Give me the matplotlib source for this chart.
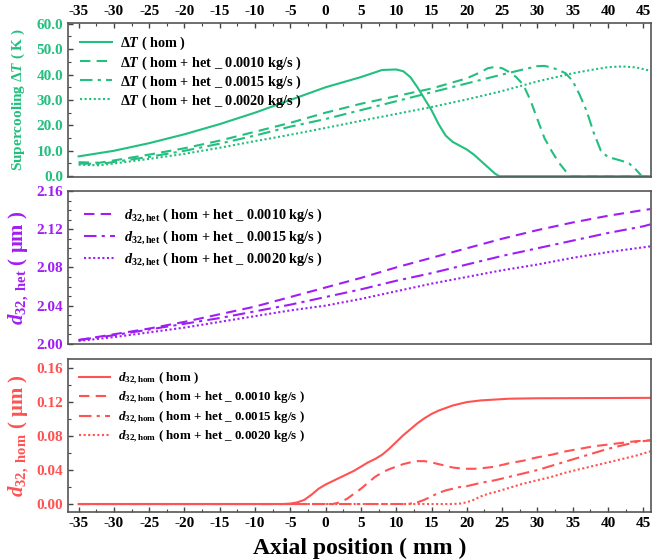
import matplotlib
matplotlib.use("Agg")
import matplotlib.pyplot as plt
from matplotlib.ticker import MultipleLocator

plt.rcParams['font.family'] = ['Liberation Serif', 'DejaVu Serif']
plt.rcParams['font.weight'] = 'bold'
plt.rcParams['axes.unicode_minus'] = False
plt.rcParams['mathtext.fontset'] = 'custom'
plt.rcParams['mathtext.rm'] = 'Liberation Serif:bold'
plt.rcParams['mathtext.it'] = 'Liberation Serif:italic:bold'
plt.rcParams['mathtext.bf'] = 'Liberation Serif:bold'

GREEN = '#22BF7E'
PURPLE = '#A01EF5'
RED = '#FF5252'

# ---------------- Supercooling ΔT (K) ----------------
dt_hom_x = [-35, -30, -25, -20, -15, -10, -5, 0, 5, 8, 10, 11, 12, 13, 14, 15, 16, 17, 18, 19, 20, 21, 22, 23, 24, 24.6, 30, 40, 46]
dt_hom_y = [7.8, 10, 13, 16.5, 20.5, 25, 30, 35, 39, 41.8, 42, 41.3, 39, 35, 30.5, 26, 20.5, 16, 13.5, 12, 10.5, 8.5, 6, 3.5, 1, 0, 0, 0, 0]

dt_10_x = [-35, -32, -30, -25, -20, -15, -10, -5, 0, 5, 10, 15, 20, 22, 23, 24, 25, 26, 27, 28, 29, 30, 31, 32, 33, 34, 34.7, 40, 46]
dt_10_y = [5.5, 5.3, 6.2, 8.5, 11, 14, 17.5, 21, 25, 28.5, 31.5, 34.5, 38.5, 41, 42.5, 43, 42.5, 41, 39, 36, 30, 22.5, 15, 10, 5.5, 2, 0, 0, 0]

dt_15_x = [-35, -32, -30, -25, -20, -15, -10, -5, 0, 5, 10, 15, 20, 25, 28, 30, 31, 32, 33, 34, 35, 36, 37, 38, 39, 40, 41, 42, 43, 44, 44.8, 46]
dt_15_y = [5, 4.8, 5.6, 7.6, 10, 12.8, 16, 19.5, 22.5, 26, 29.5, 33, 36.5, 40, 42, 43.3, 43.4, 42.8, 41.8, 40.5, 37.5, 32, 25.5, 17, 10, 7.5, 6.8, 6, 5, 2.5, 0, 0]

dt_20_x = [-35, -32, -30, -25, -20, -15, -10, -5, 0, 5, 10, 15, 20, 25, 30, 35, 38, 40, 42, 44, 46]
dt_20_y = [4.5, 4.3, 5, 6.8, 8.8, 11.2, 13.8, 16.3, 19, 21.8, 24.5, 27.2, 30.2, 33.5, 37.3, 40.5, 42, 42.9, 43.2, 42.8, 41.5]

# ---------------- d32,het (µm) ----------------
het_x = [-35, -30, -25, -20, -15, -10, -5, 0, 5, 10, 15, 20, 25, 30, 35, 40, 45, 46]
het_10 = [2.004, 2.010, 2.016, 2.023, 2.031, 2.039, 2.049, 2.059, 2.069, 2.080, 2.090, 2.100, 2.110, 2.119, 2.127, 2.134, 2.140, 2.141]
het_15 = [2.004, 2.009, 2.015, 2.021, 2.027, 2.034, 2.041, 2.049, 2.057, 2.066, 2.074, 2.083, 2.092, 2.100, 2.108, 2.116, 2.123, 2.125]
het_20 = [2.003, 2.007, 2.012, 2.017, 2.023, 2.029, 2.035, 2.040, 2.047, 2.055, 2.063, 2.070, 2.077, 2.083, 2.090, 2.096, 2.101, 2.102]

# ---------------- d32,hom (µm) ----------------
hom_x = [-35, -6, -5, -4, -3, -2, -1, 0, 1, 2, 3, 4, 5, 6, 7, 8, 9, 10, 11, 12, 13, 14, 15, 16, 17, 18, 19, 20, 22, 24, 26, 30, 46]
hom_y = [0, 0, 0.0005, 0.002, 0.005, 0.011, 0.018, 0.023, 0.027, 0.031, 0.035, 0.039, 0.044, 0.049, 0.053, 0.058, 0.065, 0.073, 0.081, 0.088, 0.095, 0.101, 0.106, 0.110, 0.113, 0.116, 0.118, 0.120, 0.122, 0.123, 0.124, 0.1245, 0.125]

hom10_x = [-35, 1, 2, 3, 4, 5, 6, 7, 8, 9, 10, 11, 12, 13, 14, 15, 16, 17, 18, 19, 20, 21, 22, 24, 26, 28, 30, 32, 34, 36, 38, 40, 42, 44, 46]
hom10_y = [0, 0, 0.002, 0.006, 0.012, 0.018, 0.025, 0.032, 0.037, 0.041, 0.044, 0.047, 0.049, 0.0505, 0.0505, 0.049, 0.047, 0.045, 0.043, 0.042, 0.0415, 0.0415, 0.042, 0.044, 0.048, 0.051, 0.055, 0.058, 0.062, 0.065, 0.068, 0.070, 0.072, 0.074, 0.075]

hom15_x = [-35, 11.5, 12, 13, 14, 15, 16, 17, 18, 19, 20, 22, 24, 26, 28, 30, 32, 34, 36, 38, 40, 42, 44, 46]
hom15_y = [0, 0, 0.0005, 0.002, 0.005, 0.009, 0.013, 0.016, 0.018, 0.020, 0.021, 0.025, 0.028, 0.032, 0.036, 0.040, 0.045, 0.050, 0.055, 0.060, 0.065, 0.069, 0.073, 0.075]

hom20_x = [-35, 18, 19, 20, 21, 22, 23, 24, 26, 28, 30, 32, 34, 36, 38, 40, 42, 44, 46]
hom20_y = [0, 0, 0.0005, 0.002, 0.005, 0.009, 0.012, 0.014, 0.019, 0.024, 0.028, 0.032, 0.037, 0.041, 0.045, 0.049, 0.053, 0.057, 0.062]

x_ticks = [-35, -30, -25, -20, -15, -10, -5, 0, 5, 10, 15, 20, 25, 30, 35, 40, 45]

fig = plt.figure(figsize=(6.67, 5.6), dpi=100)
L, W = 0.102, 0.874
ax1 = fig.add_axes([L, 0.684, W, 0.275])
ax2 = fig.add_axes([L, 0.386, W, 0.273])
ax3 = fig.add_axes([L, 0.0857, W, 0.273])

DASH = (0, (5, 3))
DASHDOT = (0, (6, 2.5, 1.5, 2.5))
DOT = (0, (1, 1.2))

lw = 1.5
ax1.plot(dt_hom_x, dt_hom_y, color=GREEN, lw=lw, ls='-', label=r'$\mathit{\Delta T}$ ( hom )')
ax1.plot(dt_10_x, dt_10_y, color=GREEN, lw=lw, ls=DASH, label=r'$\mathit{\Delta T}$ ( hom + het _ 0.0010 kg/s )')
ax1.plot(dt_15_x, dt_15_y, color=GREEN, lw=lw, ls=DASHDOT, label=r'$\mathit{\Delta T}$ ( hom + het _ 0.0015 kg/s )')
ax1.plot(dt_20_x, dt_20_y, color=GREEN, lw=lw, ls=DOT, label=r'$\mathit{\Delta T}$ ( hom + het _ 0.0020 kg/s )')

ax2.plot(het_x, het_10, color=PURPLE, lw=lw, ls=DASH, label=r'$d_{32,\mathrm{het}}$ ( hom + het _ 0.0010 kg/s )')
ax2.plot(het_x, het_15, color=PURPLE, lw=lw, ls=DASHDOT, label=r'$d_{32,\mathrm{het}}$ ( hom + het _ 0.0015 kg/s )')
ax2.plot(het_x, het_20, color=PURPLE, lw=lw, ls=DOT, label=r'$d_{32,\mathrm{het}}$ ( hom + het _ 0.0020 kg/s )')

ax3.plot(hom_x, hom_y, color=RED, lw=lw, ls='-', label=r'$d_{32,\mathrm{hom}}$ ( hom )')
ax3.plot(hom10_x, hom10_y, color=RED, lw=lw, ls=DASH, label=r'$d_{32,\mathrm{hom}}$ ( hom + het _ 0.0010 kg/s )')
ax3.plot(hom15_x, hom15_y, color=RED, lw=lw, ls=DASHDOT, label=r'$d_{32,\mathrm{hom}}$ ( hom + het _ 0.0015 kg/s )')
ax3.plot(hom20_x, hom20_y, color=RED, lw=lw, ls=DOT, label=r'$d_{32,\mathrm{hom}}$ ( hom + het _ 0.0020 kg/s )')

for ax in (ax1, ax2, ax3):
    ax.set_xlim(-36.5, 46.1)
    ax.set_xticks(x_ticks)
    ax.xaxis.set_minor_locator(MultipleLocator(2.5))
    for s in ax.spines.values():
        s.set_color('#555555')
        s.set_linewidth(1.2)
    ax.tick_params(which='both', direction='in', labelsize=11, color='#444444')
    ax.tick_params(which='major', length=3.5, width=1)
    ax.tick_params(which='minor', length=2, width=0.8)

ax1.set_ylim(-0.3, 60.3)
ax1.set_yticks([0, 10, 20, 30, 40, 50, 60])
ax1.set_yticklabels([f'{v:.1f}' for v in [0, 10, 20, 30, 40, 50, 60]])
ax1.yaxis.set_minor_locator(MultipleLocator(5))
ax1.tick_params(axis='x', which='both', top=True, bottom=False, labeltop=True, labelbottom=False)
ax1.tick_params(axis='y', labelcolor=GREEN)
ax1.set_ylabel(r'Supercooling $\mathit{\Delta T}$ ( K )', color=GREEN, fontsize=11, fontweight='bold', labelpad=7)

ax2.set_ylim(2.0, 2.16)
ax2.set_yticks([2.00, 2.04, 2.08, 2.12, 2.16])
ax2.set_yticklabels(['2.00', '2.04', '2.08', '2.12', '2.16'])
ax2.yaxis.set_minor_locator(MultipleLocator(0.01))
ax2.tick_params(axis='x', which='both', top=False, bottom=False, labelbottom=False)
ax2.tick_params(axis='y', labelcolor=PURPLE)
ax2.set_ylabel(r'$d_{32,\ \mathrm{het}}$ ( μm )', color=PURPLE, fontsize=15, fontweight='bold', labelpad=4)

ax3.set_ylim(-0.0094, 0.1706)
ax3.set_yticks([0.0, 0.04, 0.08, 0.12, 0.16])
ax3.set_yticklabels(['0.00', '0.04', '0.08', '0.12', '0.16'])
ax3.yaxis.set_minor_locator(MultipleLocator(0.02))
ax3.tick_params(axis='x', which='both', top=False, bottom=True, labelbottom=True)
ax3.tick_params(axis='y', labelcolor=RED)
ax3.set_ylabel(r'$d_{32,\ \mathrm{hom}}$ ( μm )', color=RED, fontsize=15, fontweight='bold', labelpad=4)
ax3.set_xlabel('Axial position ( mm )', fontsize=17, fontweight='bold', labelpad=6)

def legend(ax, size, hl, spacing, pad):
    ax.legend(frameon=False, loc='upper left', handlelength=hl, handletextpad=0.6,
              borderaxespad=pad, labelspacing=spacing,
              prop={'family': 'Liberation Serif', 'weight': 'bold', 'size': size})

legend(ax1, 10.3, 2.2, 0.12, 0.45)
legend(ax2, 10.3, 2.2, 0.32, 0.7)
legend(ax3, 9.4, 2.4, 0.22, 0.45)

fig.savefig('out.png', dpi=100)
